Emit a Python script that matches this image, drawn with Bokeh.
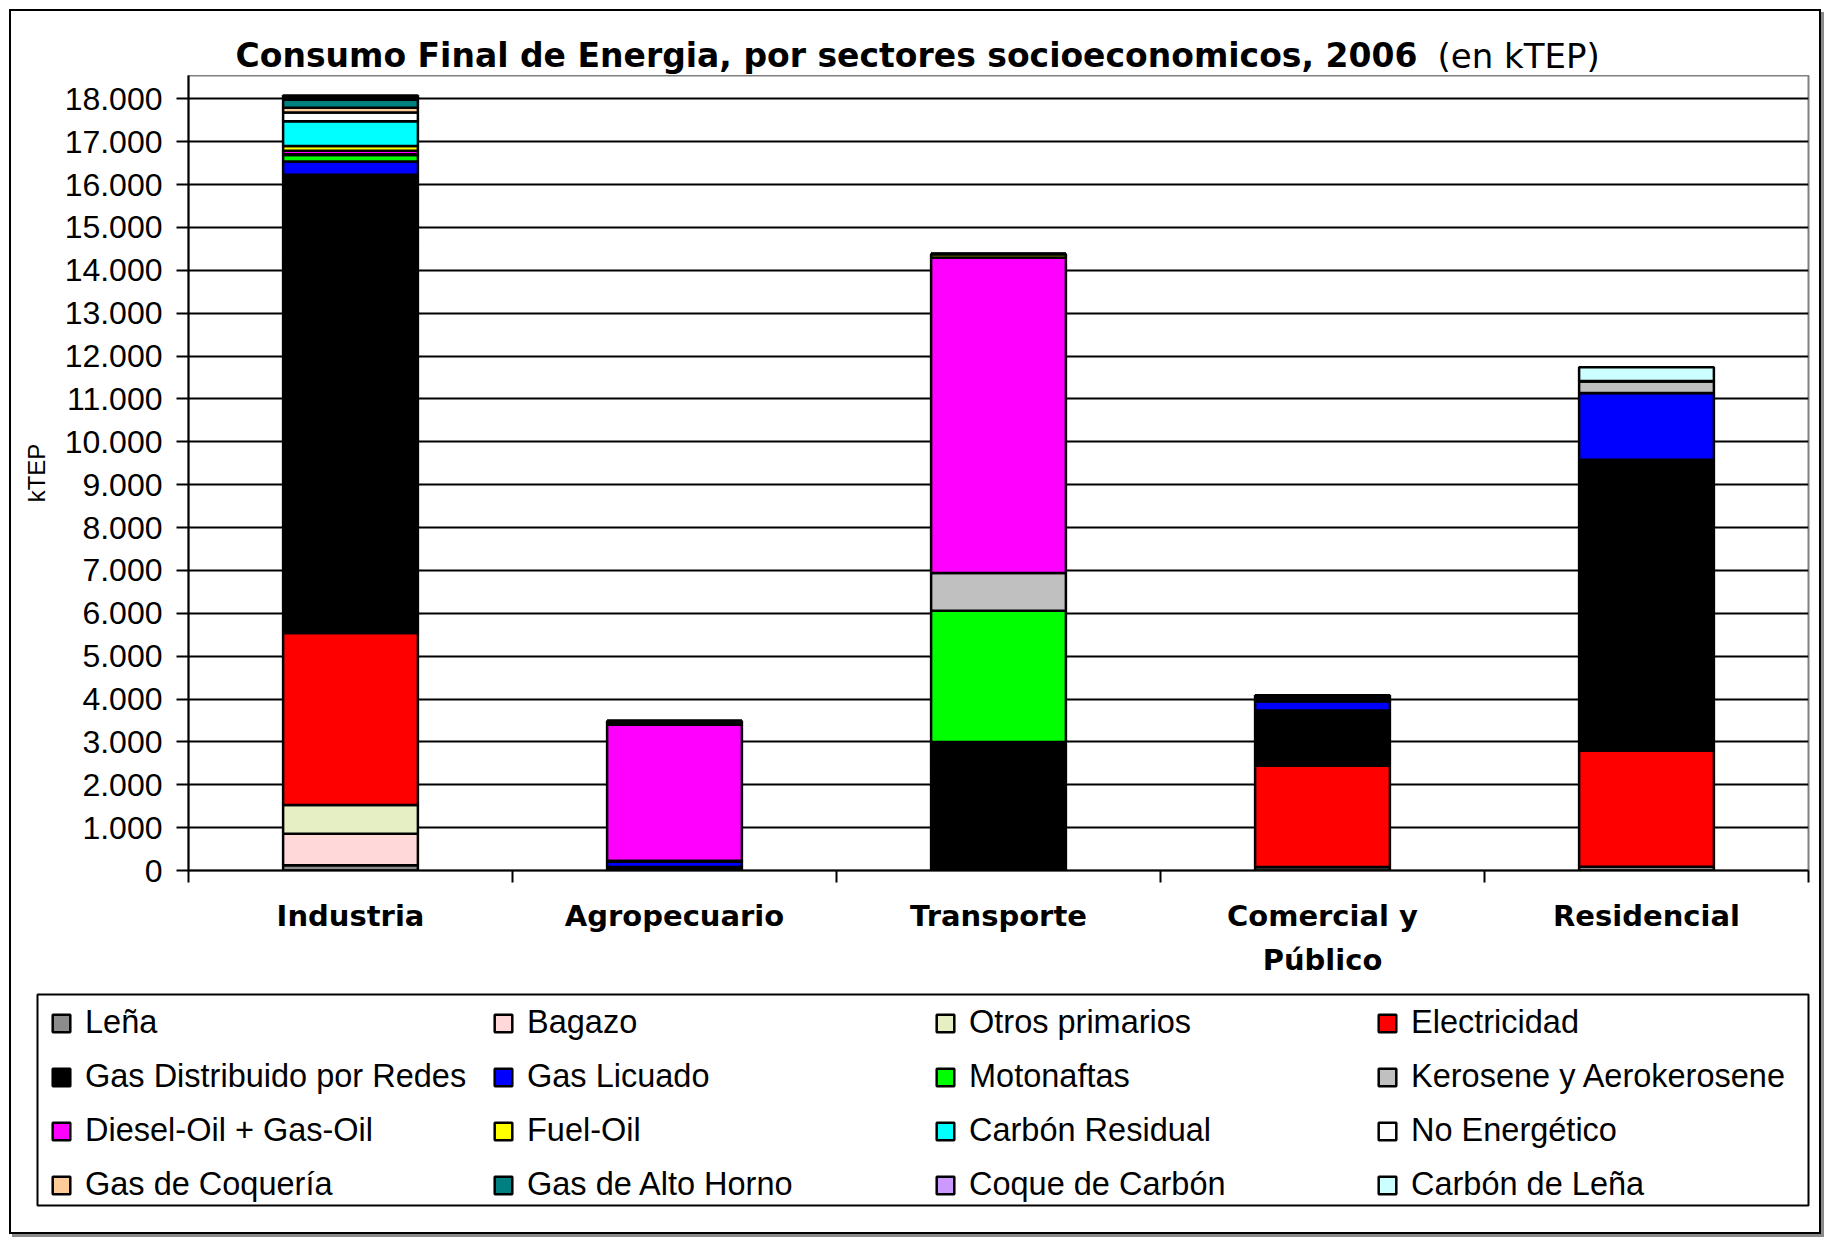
from bokeh.plotting import figure
from bokeh.layouts import column
from bokeh.models import (ColumnDataSource, Range1d, FixedTicker, Label, Legend,
                          LegendItem)
from bokeh.embed import file_html
from bokeh.resources import INLINE

# ---------------- data (kTEP) ----------------
sectors = ["Industria", "Agropecuario", "Transporte", "Comercial y\nPúblico", "Residencial"]

lena            = [120,     0,    0,   80,   90]
bagazo          = [740,     0,    0,    0,    0]
otros_primarios = [670,     0,    0,    0,    0]
electricidad    = [4010,   60,   20, 2370, 2710]
gas_redes       = [10690,  20, 2980, 1280, 6780]
gas_licuado     = [310,   130,    0,  220, 1560]
motonaftas      = [150,    20, 3060,    0,    0]
kerosene        = [20,      0,  880,   30,  280]
diesel          = [80,   3170, 7360,   50,    0]
fuel_oil        = [110,    40,   80,   50,    0]
carbon_residual = [580,     0,    0,    0,    0]
no_energetico   = [200,    50,    0,    0,    0]
gas_coqueria    = [110,     0,    0,    0,    0]
gas_alto_horno  = [190,     0,    0,    0,    0]
coque_carbon    = [60,      0,    0,    0,    0]
carbon_lena     = [40,      0,    0,    0,  320]

series_labels = ["Leña", "Bagazo", "Otros primarios", "Electricidad",
                 "Gas Distribuido por Redes", "Gas Licuado", "Motonaftas",
                 "Kerosene y Aerokerosene", "Diesel-Oil + Gas-Oil", "Fuel-Oil",
                 "Carbón Residual", "No Energético", "Gas de Coquería",
                 "Gas de Alto Horno", "Coque de Carbón", "Carbón de Leña"]
series_values = [lena, bagazo, otros_primarios, electricidad, gas_redes, gas_licuado,
                 motonaftas, kerosene, diesel, fuel_oil, carbon_residual, no_energetico,
                 gas_coqueria, gas_alto_horno, coque_carbon, carbon_lena]
series_colors = ["#8c8c8c", "#ffd9d9", "#e6eec4", "#ff0000",
                 "#000000", "#0000ff", "#00ff00",
                 "#c0c0c0", "#ff00ff", "#ffff00",
                 "#00ffff", "#ffffff", "#ffcc99",
                 "#008080", "#cc99ff", "#ccffff"]

y_ticks = list(range(0, 18001, 1000))

title_bold = "Consumo Final de Energia, por sectores socioeconomicos, 2006"
title_unit = "(en kTEP)"

# ---------------- layout sizes ----------------
W = 1808
H_TITLE, H_CHART, H_LEG = 64, 910, 247


def free_frame(fig):
    # do not align this strip's frame with the chart's frame
    if "frame_align" in fig.properties():
        fig.frame_align = False


# ---------------- title strip ----------------
t = figure(width=W, height=H_TITLE, output_backend="svg", toolbar_location=None,
           x_axis_location=None, y_axis_location=None, min_border=0,
           x_range=Range1d(0, 1), y_range=Range1d(0, 1))
free_frame(t)
t.outline_line_color = None
t.grid.visible = False
t.add_layout(Label(x=224, y=20, x_units="screen", y_units="screen", text=title_bold,
                   text_font="DejaVu Sans", text_font_style="bold", text_font_size="33px",
                   text_color="black", text_baseline="alphabetic", text_align="left"))
t.add_layout(Label(x=1426, y=20, x_units="screen", y_units="screen", text=title_unit,
                   text_font="DejaVu Sans", text_font_style="normal", text_font_size="34px",
                   text_color="black", text_baseline="alphabetic", text_align="left"))

# ---------------- chart ----------------
keys = [f"s{i}" for i in range(len(series_labels))]
data = {"x": [2 * i + 1 for i in range(len(sectors))]}
for k, vals in zip(keys, series_values):
    data[k] = vals
source = ColumnDataSource(data)

p = figure(width=W, height=H_CHART, output_backend="svg", toolbar_location=None,
           x_range=Range1d(0, 2 * len(sectors)), y_range=Range1d(0, 18545),
           min_border_left=177, min_border_right=11, min_border_top=0,
           min_border_bottom=115)
p.background_fill_color = "white"
p.border_fill_color = "white"
p.outline_line_color = "#808080"
p.outline_line_width = 2

p.vbar_stack(keys, x="x", width=0.832, source=source, fill_color=series_colors,
             line_color="black", line_width=2.5)

p.xgrid.grid_line_color = None
p.ygrid.grid_line_color = "black"
p.ygrid.grid_line_width = 2
p.ygrid.ticker = FixedTicker(ticks=y_ticks)

yax = p.yaxis[0]
yax.ticker = FixedTicker(ticks=y_ticks)
yax.major_label_overrides = {v: f"{v:,}".replace(",", ".") for v in y_ticks}
yax.major_label_text_font = "Liberation Sans"
yax.major_label_text_font_size = "32px"
yax.major_label_text_color = "black"
yax.major_label_standoff = 14
yax.major_tick_out = 12
yax.major_tick_in = 0
yax.major_tick_line_width = 2
yax.major_tick_line_color = "black"
yax.minor_tick_line_color = None
yax.axis_line_width = 2
yax.axis_line_color = "black"
yax.axis_label = "kTEP"
yax.axis_label_text_font = "Liberation Sans"
yax.axis_label_text_font_style = "normal"
yax.axis_label_text_font_size = "24px"
yax.axis_label_text_color = "black"
yax.axis_label_standoff = 12

xax = p.xaxis[0]
xax.ticker = FixedTicker(ticks=data["x"], minor_ticks=list(range(0, 2 * len(sectors) + 1, 2)))
xax.major_label_overrides = {x: s for x, s in zip(data["x"], sectors)}
xax.major_label_text_font = "DejaVu Sans"
xax.major_label_text_font_style = "bold"
xax.major_label_text_font_size = "29px"
xax.major_label_text_color = "black"
xax.major_label_text_line_height = 1.3
xax.major_label_standoff = 16
xax.major_tick_out = 0
xax.major_tick_in = 0
xax.minor_tick_out = 12
xax.minor_tick_in = 0
xax.minor_tick_line_width = 2
xax.minor_tick_line_color = "black"
xax.axis_line_width = 2
xax.axis_line_color = "black"

# ---------------- legend strip (its frame outline is the legend box) ----------------
lf = figure(width=W, height=H_LEG, output_backend="svg", toolbar_location=None,
            x_axis_location=None, y_axis_location=None,
            min_border_left=26, min_border_right=11, min_border_top=9,
            min_border_bottom=27,
            x_range=Range1d(0, 1), y_range=Range1d(0, 1))
free_frame(lf)
lf.outline_line_color = "black"
lf.outline_line_width = 2
lf.background_fill_color = "white"
lf.border_fill_color = "white"
lf.grid.visible = False
items = []
for lab, col in zip(series_labels, series_colors):
    # swatch-only renderer, placed outside the visible range
    r = lf.vbar(x=[-5], top=[0], width=0.1, fill_color=col, line_color="black",
                line_width=2.5)
    items.append(LegendItem(label=lab, renderers=[r], index=0))
lg = Legend(items=items, orientation="horizontal", ncols=4, location=(13, 2),
            title=" ", title_text_font_size="8px", title_standoff=5,
            label_text_font="Liberation Sans", label_text_font_size="32.5px",
            label_text_color="black", glyph_width=22, glyph_height=22,
            label_standoff=13, label_width=390, label_height=36, spacing=17,
            padding=3, margin=0, border_line_color=None,
            background_fill_alpha=0)
lf.add_layout(lg, "center")

layout = column(t, p, lf, spacing=0,
                styles={"margin-left": "9px", "margin-top": "9px",
                        "border": "2px solid black",
                        "box-shadow": "3px 3px 0px #8a8a8a"})

open("out.html", "w").write(file_html(layout, INLINE))
